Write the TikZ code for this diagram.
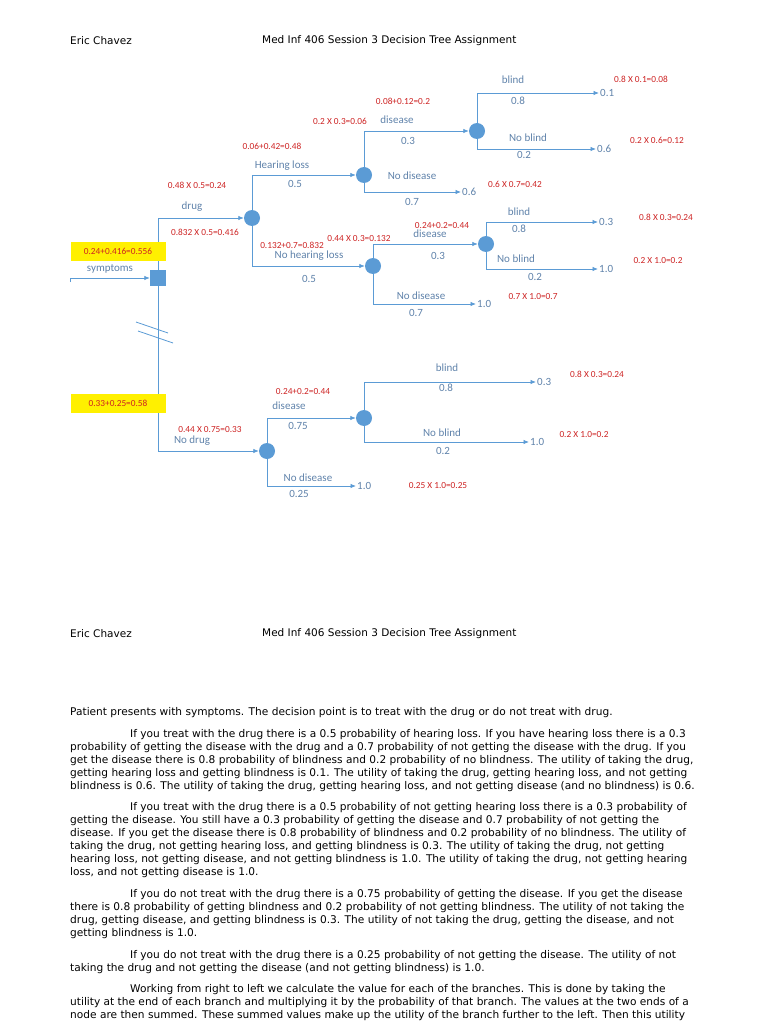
\documentclass[tikz,border=0pt]{standalone}
\usepackage{fontspec}
\setmainfont{DejaVu Sans}
\newfontfamily\labfont{Carlito}
\usetikzlibrary{arrows.meta}
\definecolor{lineblue}{RGB}{91,155,213}
\definecolor{labblue}{RGB}{95,130,170}
\definecolor{redlab}{RGB}{205,35,35}
\definecolor{hlyellow}{RGB}{255,240,0}
\begin{document}
\begin{tikzpicture}[x=1pt,y=-1pt,
  edge/.style={draw=lineblue, line width=0.8pt},
  arr/.style={edge, -{Latex[length=5.5pt,width=4.5pt]}},
  chance/.style={circle, fill=lineblue, minimum size=16pt, inner sep=0pt},
  decision/.style={rectangle, fill=lineblue, minimum size=16pt, inner sep=0pt},
  lbl/.style={font=\labfont\fontsize{11}{12}\selectfont, text=labblue, inner sep=0pt},
  calc/.style={font=\labfont\fontsize{9.3}{10}\selectfont, text=redlab, inner sep=0pt},
  term/.style={font=\labfont\fontsize{11}{12}\selectfont, text=labblue, inner sep=1pt, anchor=west},
  hlbox/.style={fill=hlyellow, minimum width=95pt, minimum height=19pt, inner sep=0pt,
    font=\labfont\fontsize{9.3}{10}\selectfont, text=redlab},
  head/.style={font=\fontsize{10.5}{13}\selectfont, anchor=west, inner sep=0pt},
  body/.style={font=\fontsize{10.6}{13}\selectfont, align=left, anchor=north west, inner sep=0pt},
]
\useasboundingbox (0,0) rectangle (768,1024);

% headers
\node[head] (h1a) at (70,41) {Eric Chavez};
\node[head] (h1b) at (262,41) {Med Inf 406 Session 3 Decision Tree Assignment};
\node[head] (h2a) at (70,634) {Eric Chavez};
\node[head] (h2b) at (262,634) {Med Inf 406 Session 3 Decision Tree Assignment};

% decision and chance nodes
\node[decision] (D) at (158,278) {};
\node[chance] (c1) at (252,218) {};
\node[chance] (c2) at (364,175) {};
\node[chance] (c3) at (373,266) {};
\node[chance] (c4) at (477,131) {};
\node[chance] (c5) at (486,244) {};
\node[chance] (c6) at (267,451) {};
\node[chance] (c7) at (364,418) {};

% terminal values
\node[term] (t1) at (599,93) {0.1};
\node[term] (t2) at (596,149) {0.6};
\node[term] (t3) at (461,192) {0.6};
\node[term] (t4) at (598,222) {0.3};
\node[term] (t5) at (598,269) {1.0};
\node[term] (t6) at (476,304) {1.0};
\node[term] (t7) at (536,382) {0.3};
\node[term] (t8) at (529,442) {1.0};
\node[term] (t9) at (356,486) {1.0};

% symptoms entry
\coordinate (s0) at (70,278);
\coordinate (s1) at (70,282);
\draw[edge] (s1) -- (s0);
\draw[arr] (s0) -- (D);

% connectors
\draw[arr] (D) |- (c1);
\draw[arr] (D) |- (c6);
\draw[arr] (c1) |- (c2);
\draw[arr] (c1) |- (c3);
\draw[arr] (c2) |- (c4);
\draw[arr] (c2) |- (t3.west);
\draw[arr] (c4) |- (t1.west);
\draw[arr] (c4) |- (t2.west);
\draw[arr] (c3) |- (c5);
\draw[arr] (c3) |- (t6.west);
\draw[arr] (c5) |- (t4.west);
\draw[arr] (c5) |- (t5.west);
\draw[arr] (c6) |- (c7);
\draw[arr] (c6) |- (t9.west);
\draw[arr] (c7) |- (t7.west);
\draw[arr] (c7) |- (t8.west);

% break marks
\coordinate (b1a) at (136,322); \coordinate (b1b) at (168,333);
\coordinate (b2a) at (138,331); \coordinate (b2b) at (173,343);
\draw[edge] (b1a) -- (b1b);
\draw[edge] (b2a) -- (b2b);

% highlighted sums
\node[hlbox] (y1) at (118,251) {0.24+0.416=0.556};
\node[hlbox] (y2) at (118,403) {0.33+0.25=0.58};

% blue labels
\node[lbl] (l1) at (110,269) {symptoms};
\node[lbl] (l2) at (192,207) {drug};
\node[lbl] (l3) at (192,441) {No drug};
\node[lbl] (l4) at (282,166) {Hearing loss};
\node[lbl] (l5) at (295,184) {0.5};
\node[lbl] (l6) at (309,256) {No hearing loss};
\node[lbl] (l7) at (309,279) {0.5};
\node[lbl] (l8) at (397,120) {disease};
\node[lbl] (l9) at (408,141) {0.3};
\node[lbl] (l10) at (412,176) {No disease};
\node[lbl] (l11) at (412,202) {0.7};
\node[lbl] (l12) at (513,80) {blind};
\node[lbl] (l13) at (518,101) {0.8};
\node[lbl] (l14) at (528,138) {No blind};
\node[lbl] (l15) at (524,155) {0.2};
\node[lbl] (l16) at (430,234) {disease};
\node[lbl] (l17) at (438,256) {0.3};
\node[lbl] (l18) at (421,296) {No disease};
\node[lbl] (l19) at (416,313) {0.7};
\node[lbl] (l20) at (519,212) {blind};
\node[lbl] (l21) at (519,229) {0.8};
\node[lbl] (l22) at (516,259) {No blind};
\node[lbl] (l23) at (535,277) {0.2};
\node[lbl] (l24) at (289,406) {disease};
\node[lbl] (l25) at (298,426) {0.75};
\node[lbl] (l26) at (308,478) {No disease};
\node[lbl] (l27) at (299,494) {0.25};
\node[lbl] (l28) at (447,368) {blind};
\node[lbl] (l29) at (446,388) {0.8};
\node[lbl] (l30) at (442,433) {No blind};
\node[lbl] (l31) at (443,451) {0.2};

% red calculations
\node[calc] (r1) at (641,79) {0.8 X 0.1=0.08};
\node[calc] (r2) at (403,101) {0.08+0.12=0.2};
\node[calc] (r3) at (340,121) {0.2 X 0.3=0.06};
\node[calc] (r4) at (657,140) {0.2 X 0.6=0.12};
\node[calc] (r5) at (272,146) {0.06+0.42=0.48};
\node[calc] (r6) at (515,184) {0.6 X 0.7=0.42};
\node[calc] (r7) at (197,185) {0.48 X 0.5=0.24};
\node[calc] (r8) at (666,217) {0.8 X 0.3=0.24};
\node[calc] (r9) at (442,226) {0.24+0.2=0.44};
\node[calc] (r10) at (205,232) {0.832 X 0.5=0.416};
\node[calc] (r11) at (359,239) {0.44 X 0.3=0.132};
\node[calc] (r12) at (292,245) {0.132+0.7=0.832};
\node[calc] (r13) at (658,261) {0.2 X 1.0=0.2};
\node[calc] (r14) at (533,297) {0.7 X 1.0=0.7};
\node[calc] (r15) at (597,374) {0.8 X 0.3=0.24};
\node[calc] (r16) at (303,392) {0.24+0.2=0.44};
\node[calc] (r17) at (210,430) {0.44 X 0.75=0.33};
\node[calc] (r18) at (584,435) {0.2 X 1.0=0.2};
\node[calc] (r19) at (438,486) {0.25 X 1.0=0.25};

% body text
\node[body] (p1) at (70,707) {Patient presents with symptoms. The decision point is to treat with the drug or do not treat with drug.};
\node[body] (p2) at (70,729) {\hspace*{60pt}If you treat with the drug there is a 0.5 probability of hearing loss. If you have hearing loss there is a 0.3\\
probability of getting the disease with the drug and a 0.7 probability of not getting the disease with the drug. If you\\
get the disease there is 0.8 probability of blindness and 0.2 probability of no blindness. The utility of taking the drug,\\
getting hearing loss and getting blindness is 0.1. The utility of taking the drug, getting hearing loss, and not getting\\
blindness is 0.6. The utility of taking the drug, getting hearing loss, and not getting disease (and no blindness) is 0.6.};
\node[body] (p3) at (70,802) {\hspace*{60pt}If you treat with the drug there is a 0.5 probability of not getting hearing loss there is a 0.3 probability of\\
getting the disease. You still have a 0.3 probability of getting the disease and 0.7 probability of not getting the\\
disease. If you get the disease there is 0.8 probability of blindness and 0.2 probability of no blindness. The utility of\\
taking the drug, not getting hearing loss, and getting blindness is 0.3. The utility of taking the drug, not getting\\
hearing loss, not getting disease, and not getting blindness is 1.0. The utility of taking the drug, not getting hearing\\
loss, and not getting disease is 1.0.};
\node[body] (p4) at (70,889) {\hspace*{60pt}If you do not treat with the drug there is a 0.75 probability of getting the disease. If you get the disease\\
there is 0.8 probability of getting blindness and 0.2 probability of not getting blindness. The utility of not taking the\\
drug, getting disease, and getting blindness is 0.3. The utility of not taking the drug, getting the disease, and not\\
getting blindness is 1.0.};
\node[body] (p5) at (70,950) {\hspace*{60pt}If you do not treat with the drug there is a 0.25 probability of not getting the disease. The utility of not\\
taking the drug and not getting the disease (and not getting blindness) is 1.0.};
\node[body] (p6) at (70,984) {\hspace*{60pt}Working from right to left we calculate the value for each of the branches. This is done by taking the\\
utility at the end of each branch and multiplying it by the probability of that branch. The values at the two ends of a\\
node are then summed. These summed values make up the utility of the branch further to the left. Then this utility};
\end{tikzpicture}
\end{document}
